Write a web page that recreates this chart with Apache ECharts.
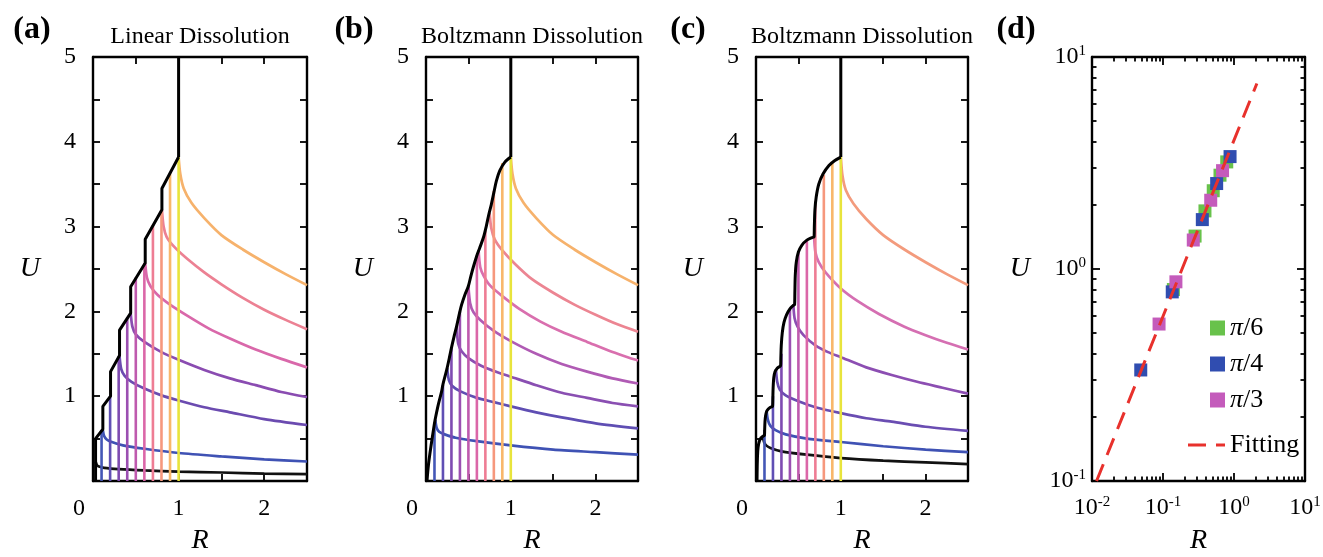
<!DOCTYPE html>
<html><head><meta charset="utf-8">
<script src="https://cdn.jsdelivr.net/npm/echarts@6/dist/echarts.min.js"></script>
<style>html,body{margin:0;padding:0;background:#fff}#c{width:1323px;height:557px}</style>
</head><body><div id="c"></div>
<script>
const FONT = '"Liberation Serif", "Times New Roman", serif';

// ---------- shared for panels a-c ----------
const lineR = [0.1,0.2,0.3,0.4,0.5,0.6,0.7,0.8,0.9,1.0];
const lineColors = ['#4457b6','#5f4fb4','#7e4bb1','#9b4fb1','#bf5aae','#db67a8','#ee7d94','#f6987d','#f8b76a','#e8e43c'];
const xTicksLin = [0,1,2];
const yTicksLin = [1,2,3,4,5];
const stem = [[1.0,3.82],[1.0,5.0]];

// ---------- panel (a) Linear Dissolution ----------
const topsA = [0.6,1.0,1.47,1.93,2.4,2.57,3.02,3.2,3.63,3.82];
const envA = [[0.03,0],[0.03,0.5],[0.115,0.61],[0.115,0.88],[0.205,1.0],[0.205,1.29],[0.31,1.48],[0.31,1.78],[0.44,1.98],[0.44,2.29],[0.61,2.57],[0.61,2.85],[0.805,3.2],[0.805,3.45],[1.0,3.82]];
const aBlack  = [[0.03,0.23],[0.045,0.19],[0.07,0.17],[0.13,0.155],[0.3,0.14],[0.6,0.125],[1.0,0.11],[1.5,0.1],[2.0,0.088],[2.5,0.08]];
const aBlue   = [[0.115,0.6],[0.13,0.53],[0.16,0.49],[0.22,0.46],[0.35,0.42],[0.6,0.38],[1.0,0.33],[1.5,0.29],[2.0,0.255],[2.5,0.23]];
const aPurple = [[0.31,1.47],[0.33,1.32],[0.37,1.24],[0.45,1.17],[0.6,1.09],[0.8,1.01],[1.0,0.95],[1.3,0.87],[1.6,0.81],[2.0,0.73],[2.5,0.66]];
const aViolet = [[0.44,1.98],[0.46,1.82],[0.5,1.73],[0.6,1.64],[0.8,1.52],[1.0,1.43],[1.3,1.31],[1.6,1.21],[1.9,1.13],[2.2,1.05],[2.5,0.99]];
const aPink   = [[0.61,2.57],[0.63,2.4],[0.67,2.3],[0.75,2.2],[0.9,2.08],[1.1,1.95],[1.35,1.8],[1.6,1.68],[1.9,1.55],[2.2,1.44],[2.5,1.34]];
const aSalmon = [[0.805,3.2],[0.825,3.0],[0.86,2.88],[0.95,2.76],[1.1,2.62],[1.3,2.46],[1.5,2.32],[1.75,2.16],[2.0,2.02],[2.25,1.9],[2.5,1.79]];
const aOrange = [[1.0,3.82],[1.02,3.62],[1.06,3.45],[1.15,3.28],[1.3,3.1],[1.5,2.9],[1.75,2.73],[2.0,2.58],[2.25,2.44],[2.5,2.31]];

// ---------- panel (b) Boltzmann Dissolution ----------
const topsB = [0.68,1.13,1.57,2.0,2.29,2.66,2.95,3.42,3.75,3.82];
const envB = [[0.012,0],[0.02,0.1],[0.03,0.2],[0.047,0.33],[0.075,0.52],[0.1,0.68],[0.115,0.76],[0.145,0.9],[0.185,1.06],[0.2,1.14],[0.244,1.31],[0.275,1.45],[0.3,1.57],[0.33,1.7],[0.36,1.82],[0.4,2.0],[0.42,2.08],[0.46,2.2],[0.5,2.3],[0.53,2.42],[0.56,2.53],[0.6,2.66],[0.63,2.74],[0.68,2.88],[0.71,3.0],[0.74,3.14],[0.77,3.26],[0.8,3.4],[0.83,3.54],[0.87,3.66],[0.93,3.76],[1.0,3.82]];
const bBlue    = [[0.11,0.72],[0.125,0.63],[0.155,0.58],[0.22,0.55],[0.35,0.51],[0.6,0.47],[1.0,0.42],[1.5,0.37],[2.0,0.34],[2.5,0.31]];
const bIndigo  = [[0.25,1.33],[0.27,1.19],[0.31,1.12],[0.4,1.06],[0.6,0.98],[0.8,0.93],[1.0,0.88],[1.3,0.81],[1.6,0.75],[2.0,0.68],[2.5,0.62]];
const bPurple  = [[0.36,1.82],[0.38,1.62],[0.42,1.53],[0.5,1.45],[0.65,1.36],[0.85,1.28],[1.0,1.23],[1.3,1.13],[1.6,1.04],[1.9,0.98],[2.2,0.92],[2.5,0.88]];
const bMagenta = [[0.5,2.3],[0.52,2.1],[0.56,1.99],[0.64,1.9],[0.8,1.77],[1.0,1.65],[1.3,1.5],[1.6,1.38],[1.9,1.29],[2.2,1.21],[2.5,1.15]];
const bPink    = [[0.62,2.72],[0.64,2.52],[0.68,2.42],[0.76,2.3],[0.9,2.18],[1.1,2.03],[1.35,1.88],[1.6,1.76],[1.9,1.64],[2.2,1.52],[2.5,1.42]];
const bSalmon  = [[0.75,3.16],[0.77,2.98],[0.81,2.85],[0.9,2.72],[1.05,2.56],[1.25,2.38],[1.5,2.22],[1.75,2.08],[2.0,1.96],[2.25,1.85],[2.5,1.76]];
const bOrange  = [[1.0,3.82],[1.02,3.62],[1.06,3.45],[1.15,3.28],[1.3,3.1],[1.5,2.9],[1.75,2.73],[2.0,2.58],[2.25,2.44],[2.5,2.31]];

// ---------- panel (c) Boltzmann Dissolution ----------
const topsC = [0.6,1.0,1.5,2.03,2.7,2.84,3.3,3.61,3.75,3.82];
const envC = [[0.012,0],[0.014,0.15],[0.018,0.3],[0.025,0.4],[0.04,0.47],[0.06,0.51],[0.085,0.53],[0.1,0.54],
  [0.102,0.6],[0.106,0.7],[0.113,0.77],[0.125,0.82],[0.145,0.85],[0.17,0.87],[0.195,0.88],
  [0.198,0.95],[0.202,1.1],[0.21,1.22],[0.225,1.29],[0.25,1.33],[0.28,1.35],[0.29,1.36],
  [0.293,1.45],[0.298,1.6],[0.31,1.75],[0.33,1.87],[0.36,1.96],[0.4,2.03],[0.44,2.07],[0.455,2.08],
  [0.458,2.2],[0.463,2.42],[0.475,2.58],[0.5,2.7],[0.54,2.78],[0.6,2.84],[0.66,2.87],[0.685,2.88],
  [0.688,3.0],[0.695,3.2],[0.71,3.35],[0.74,3.5],[0.79,3.62],[0.86,3.72],[0.93,3.78],[1.0,3.82]];
const cBlack  = [[0.08,0.53],[0.095,0.46],[0.12,0.42],[0.17,0.39],[0.3,0.35],[0.6,0.31],[1.0,0.27],[1.5,0.24],[2.0,0.22],[2.5,0.2]];
const cBlue   = [[0.125,0.83],[0.14,0.72],[0.17,0.65],[0.23,0.6],[0.35,0.55],[0.6,0.5],[1.0,0.46],[1.5,0.41],[2.0,0.37],[2.5,0.34]];
const cPurple = [[0.235,1.32],[0.25,1.17],[0.28,1.08],[0.35,1.01],[0.5,0.94],[0.7,0.87],[1.0,0.8],[1.3,0.74],[1.6,0.7],[2.0,0.64],[2.5,0.59]];
const cViolet = [[0.44,2.08],[0.455,1.92],[0.49,1.82],[0.56,1.72],[0.7,1.6],[0.85,1.52],[1.0,1.46],[1.3,1.34],[1.6,1.25],[1.9,1.17],[2.2,1.1],[2.5,1.03]];
const cPink   = [[0.685,2.88],[0.7,2.7],[0.74,2.58],[0.82,2.46],[1.0,2.27],[1.2,2.12],[1.45,1.97],[1.75,1.82],[2.0,1.72],[2.25,1.63],[2.5,1.55]];
const cSalmon = [[1.0,3.82],[1.02,3.6],[1.06,3.43],[1.15,3.27],[1.3,3.09],[1.5,2.9],[1.75,2.73],[2.0,2.58],[2.25,2.44],[2.5,2.31]];

// ---------- panel (d) log-log ----------
const p6 = [[0.14,0.80],[0.283,1.43],[0.39,1.88],[0.51,2.34],[0.635,2.77],[0.79,3.2]];
const p4 = [[0.0486,0.334],[0.135,0.78],[0.358,1.71],[0.57,2.53],[0.88,3.39]];
const p3 = [[0.088,0.55],[0.152,0.87],[0.267,1.37],[0.47,2.11],[0.69,2.91]];
const fitLine = [[0.0116,0.1],[2.1,7.5]];
const minorLog = [2,3,4,5,6,7,8,9];
const decX = [-2,-1,0];
const decY = [-1,0];

const panels = [
  {grid:{left:93,top:57,width:214,height:424}, title:'Linear Dissolution', tag:'(a)', tagX:32,
   tops:topsA, env:envA, envSmooth:false,
   curves:[[aBlack,'#111111'],[aBlue,'#3f52b4'],[aPurple,'#6b4bb0'],[aViolet,'#8a4cb1'],[aPink,'#d968aa'],[aSalmon,'#ec8193'],[aOrange,'#f6b26c']]},
  {grid:{left:426,top:57,width:212,height:424}, title:'Boltzmann Dissolution', tag:'(b)', tagX:354,
   tops:topsB, env:envB, envSmooth:0.3,
   curves:[[bBlue,'#3f52b4'],[bIndigo,'#5f4eb3'],[bPurple,'#8a4fb2'],[bMagenta,'#b05bb4'],[bPink,'#d96fae'],[bSalmon,'#ec8592'],[bOrange,'#f6b26c']]},
  {grid:{left:756,top:57,width:212,height:424}, title:'Boltzmann Dissolution', tag:'(c)', tagX:688,
   tops:topsC, env:envC, envSmooth:0.3,
   curves:[[cBlack,'#111111'],[cBlue,'#3f52b4'],[cPurple,'#6a4db2'],[cViolet,'#8c4eb2'],[cPink,'#d56fb2'],[cSalmon,'#f39b7d']]}
];

const axisLine = {show:true, onZero:false, lineStyle:{color:'#000', width:2.4}};
const tick = (len)=>({show:true, inside:true, length:len, lineStyle:{color:'#000', width:1.8}});
const lblBase = {fontSize:24, fontFamily:FONT, color:'#000'};
const nameStyle = {fontSize:28, fontFamily:FONT, fontStyle:'italic', color:'#000'};

const grids = [], xAxes = [], yAxes = [], series = [], graphics = [];

panels.forEach((p, i) => {
  grids.push(Object.assign({outerBoundsMode:'none', containLabel:false}, p.grid));
  xAxes.push({gridIndex:i, type:'value', min:0, max:2.5, interval:0.5, position:'bottom',
    axisLine, axisTick:tick(7), splitLine:{show:false},
    axisLabel:Object.assign({margin:16, formatter:(v)=> v===0 ? '{z|0}' : (xTicksLin.includes(v) ? String(v) : ''),
      rich:{z:Object.assign({padding:[0,28,0,0]}, lblBase)}}, lblBase),
    name:'R', nameLocation:'middle', nameGap:46, nameMoveOverlap:false, nameTextStyle:nameStyle});
  xAxes.push({gridIndex:i, type:'value', min:0, max:2.5, interval:0.5, position:'top',
    axisLine, axisTick:tick(7), splitLine:{show:false}, axisLabel:{show:false}});
  yAxes.push({gridIndex:i, type:'value', min:0, max:5, interval:0.5, position:'left',
    axisLine, axisTick:tick(7), splitLine:{show:false},
    axisLabel:Object.assign({margin:17, formatter:(v)=> yTicksLin.includes(v) ? String(v) : ''}, lblBase),
    name:'U', nameLocation:'middle', nameRotate:0, nameGap:53, nameMoveOverlap:false, nameTextStyle:nameStyle});
  yAxes.push({gridIndex:i, type:'value', min:0, max:5, interval:0.5, position:'right',
    axisLine, axisTick:tick(7), splitLine:{show:false}, axisLabel:{show:false}});

  const xi = 2*i, yi = 2*i;
  p.curves.forEach(([d, c]) => series.push({type:'line', xAxisIndex:xi, yAxisIndex:yi, data:d,
    symbol:'none', smooth:0.25, lineStyle:{color:c, width:2.7}, silent:true}));
  lineR.forEach((r, k) => series.push({type:'line', xAxisIndex:xi, yAxisIndex:yi,
    data:[[r,0],[r,p.tops[k]]], symbol:'none', lineStyle:{color:lineColors[k], width:2.6}, silent:true}));
  series.push({type:'line', xAxisIndex:xi, yAxisIndex:yi, data:p.env, symbol:'none',
    smooth:p.envSmooth, lineStyle:{color:'#000', width:3}, silent:true});
  series.push({type:'line', xAxisIndex:xi, yAxisIndex:yi, data:stem, symbol:'none',
    lineStyle:{color:'#000', width:3}, silent:true});

  const cx = p.grid.left + p.grid.width/2;
  graphics.push({type:'text', x:cx, y:37, style:{text:p.title, align:'center', verticalAlign:'middle', fontSize:24, fontFamily:FONT, fill:'#000'}});
  graphics.push({type:'text', x:p.tagX, y:30, style:{text:p.tag, align:'center', verticalAlign:'middle', fontSize:32, fontWeight:'bold', fontFamily:FONT, fill:'#000'}});
});

// ---- panel d axes ----
const gi = 3;
grids.push({left:1092, top:57, width:213, height:424, outerBoundsMode:'none', containLabel:false});
const logFmt = (v)=> '{b|10}{s|' + Math.round(Math.log10(v)) + '}';
const logRich = {b:{fontSize:24, fontFamily:FONT, color:'#000', lineHeight:26}, s:{fontSize:15, fontFamily:FONT, color:'#000', verticalAlign:'top'}};
const minorX = []; decX.forEach(e => minorLog.forEach(k => minorX.push(Math.log10(k) + e)));
const minorY = []; decY.forEach(e => minorLog.forEach(k => minorY.push(Math.log10(k) + e)));

xAxes.push({gridIndex:gi, type:'log', logBase:10, min:0.01, max:10, position:'bottom', axisLine, axisTick:tick(8), splitLine:{show:false},
  axisLabel:{margin:14, formatter:logFmt, rich:logRich}, name:'R', nameLocation:'middle', nameGap:46, nameMoveOverlap:false, nameTextStyle:nameStyle});
xAxes.push({gridIndex:gi, type:'log', logBase:10, min:0.01, max:10, position:'top', axisLine, axisTick:tick(8), splitLine:{show:false}, axisLabel:{show:false}});
xAxes.push({gridIndex:gi, type:'value', min:-2, max:1, position:'bottom', axisLine:{show:false, onZero:false},
  axisTick:Object.assign(tick(4.5), {customValues:minorX}), axisLabel:{show:false}, splitLine:{show:false}});
xAxes.push({gridIndex:gi, type:'value', min:-2, max:1, position:'top', axisLine:{show:false, onZero:false},
  axisTick:Object.assign(tick(4.5), {customValues:minorX}), axisLabel:{show:false}, splitLine:{show:false}});
yAxes.push({gridIndex:gi, type:'log', logBase:10, min:0.1, max:10, position:'left', axisLine, axisTick:tick(8), splitLine:{show:false},
  axisLabel:{margin:6, formatter:logFmt, rich:logRich}, name:'U', nameLocation:'middle', nameRotate:0, nameGap:62, nameMoveOverlap:false, nameTextStyle:nameStyle});
yAxes.push({gridIndex:gi, type:'log', logBase:10, min:0.1, max:10, position:'right', axisLine, axisTick:tick(8), splitLine:{show:false}, axisLabel:{show:false}});
yAxes.push({gridIndex:gi, type:'value', min:-1, max:1, position:'left', axisLine:{show:false, onZero:false},
  axisTick:Object.assign(tick(4.5), {customValues:minorY}), axisLabel:{show:false}, splitLine:{show:false}});
yAxes.push({gridIndex:gi, type:'value', min:-1, max:1, position:'right', axisLine:{show:false, onZero:false},
  axisTick:Object.assign(tick(4.5), {customValues:minorY}), axisLabel:{show:false}, splitLine:{show:false}});

series.push({name:'Fitting', type:'line', xAxisIndex:6, yAxisIndex:6, data:fitLine, symbol:'none',
  lineStyle:{color:'#e8312c', width:3, type:[18,10]}, itemStyle:{color:'#e8312c'}, silent:true});
series.push({name:'π/6', type:'scatter', xAxisIndex:6, yAxisIndex:6, data:p6, symbol:'rect', symbolSize:13, itemStyle:{color:'#68c24b', opacity:1}});
series.push({name:'π/4', type:'scatter', xAxisIndex:6, yAxisIndex:6, data:p4, symbol:'rect', symbolSize:13, itemStyle:{color:'#304db0', opacity:1}});
series.push({name:'π/3', type:'scatter', xAxisIndex:6, yAxisIndex:6, data:p3, symbol:'rect', symbolSize:13, itemStyle:{color:'#c45bbb', opacity:1}});
graphics.push({type:'text', x:1016, y:30, style:{text:'(d)', align:'center', verticalAlign:'middle', fontSize:32, fontWeight:'bold', fontFamily:FONT, fill:'#000'}});

const legendText = {fontSize:26, fontFamily:FONT, color:'#000', lineHeight:26, rich:{i:{fontSize:26, fontFamily:FONT, fontStyle:'italic', color:'#000'}}};
const chart = echarts.init(document.getElementById('c'), null, {renderer:'canvas'});
chart.setOption({
  animation:false,
  backgroundColor:'#fff',
  grid:grids, xAxis:xAxes, yAxis:yAxes, series:series,
  legend:[
    {data:['π/6','π/4','π/3'], orient:'vertical', left:1205, top:310, itemWidth:15, itemHeight:15, itemGap:10,
     itemStyle:{opacity:1}, formatter:(n)=> '{i|π}' + n.slice(1), textStyle:legendText, selectedMode:false},
    {data:[{name:'Fitting', icon:'path://M0,0 h18 v3 h-18 z M28,0 h9 v3 h-9 z'}], orient:'vertical', left:1183, top:427, itemWidth:37, itemHeight:3, itemGap:10,
     itemStyle:{color:'#e8312c'}, textStyle:{fontSize:26, fontFamily:FONT, color:'#000'}, selectedMode:false}
  ],
  graphic:graphics
});
</script></body></html>
